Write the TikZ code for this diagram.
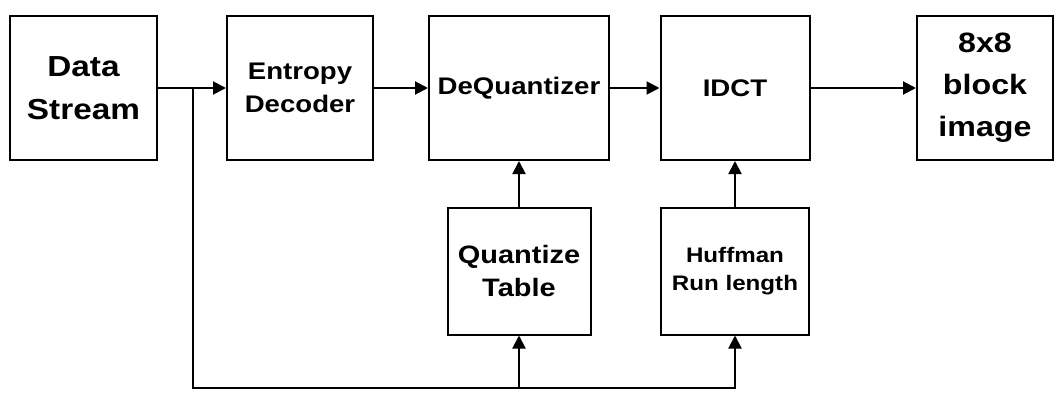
\documentclass[tikz,border=0pt]{standalone}
\usepackage{fontspec}
\setmainfont{Liberation Sans}[FakeStretch=1.15]
\usetikzlibrary{arrows.meta}
\tikzset{
  blk/.style={draw,line width=1pt,align=center,inner sep=0pt},
  flow/.style={-{Triangle[length=6.5pt,width=6.5pt]},line width=1pt},
}
\begin{document}
\begin{tikzpicture}[x=0.5pt,y=-0.5pt]
      \useasboundingbox (0,0) rectangle (1056,396);
      \draw
        (83.5,88) node[blk,minimum width=73.5pt,minimum height=72pt,
          font=\fontsize{14.5}{21.5}\selectfont\bfseries] (data){Data\\Stream}
        (300,88) node[blk,minimum width=73pt,minimum height=72pt,
          font=\fontsize{12}{16.5}\selectfont\bfseries] (entropy){Entropy\\Decoder}
        (519,88) node[blk,minimum width=90pt,minimum height=72pt,
          font=\fontsize{12}{16.5}\selectfont\bfseries] (dequant){DeQuantizer}
        (735,88) node[blk,minimum width=74.5pt,minimum height=72pt,
          font=\fontsize{12}{16.5}\selectfont\bfseries] (idct){IDCT}
        (985,88) node[blk,minimum width=68pt,minimum height=72pt,
          font=\fontsize{14}{21}\selectfont\bfseries] (image){8x8\\block\\image}
        (519,271) node[blk,minimum width=71.5pt,minimum height=63.5pt,
          font=\fontsize{12.6}{16.5}\selectfont\bfseries] (quant){Quantize\\Table}
        (735,271) node[blk,minimum width=74pt,minimum height=63.5pt,
          font=\fontsize{10.5}{14}\selectfont\bfseries] (huff){Huffman\\Run length};
      \coordinate (split) at (193,88);
      \coordinate (bus) at (193,388);
      \begin{scope}[flow]
        \draw (data) to (entropy);
        \draw (entropy) to (dequant);
        \draw (dequant) to (idct);
        \draw (idct) to (image);
        \draw (quant) to (dequant);
        \draw (huff) to (idct);
        \draw (split) -- (bus) -| (quant);
        \draw (bus) -| (huff);
      \end{scope}
    \end{tikzpicture}
\end{document}
